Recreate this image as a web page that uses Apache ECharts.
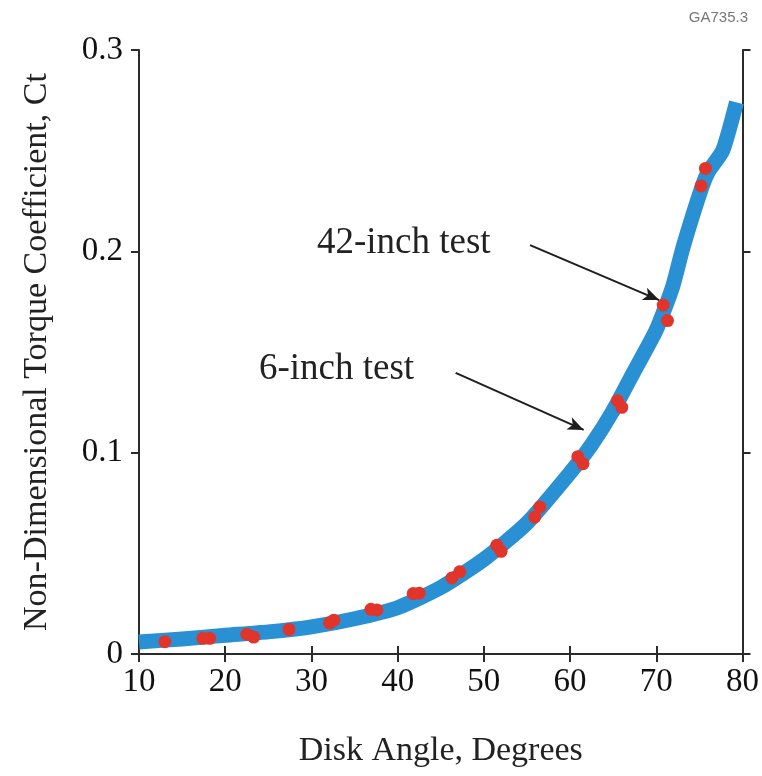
<!DOCTYPE html>
<html>
<head>
<meta charset="utf-8">
<script src="https://cdn.jsdelivr.net/npm/echarts@6/dist/echarts.min.js"></script>
<style>
  html, body { margin: 0; padding: 0; background: #fff; }
  #main { width: 762px; height: 776px; }
</style>
</head>
<body>
<div id="main"></div>
<script>
// fitted curve (blue band)
var curveAngle = [10, 15, 20, 25, 30, 35, 40, 45, 50, 55, 60, 62.5, 65, 67.5, 70, 71.9, 73.1, 75.3, 76.1, 77.7, 79.3];
var curveCt = [0.006, 0.0075, 0.0093, 0.011, 0.0135, 0.0175, 0.023, 0.033, 0.047, 0.065, 0.090, 0.104, 0.121, 0.141, 0.161, 0.1825, 0.202, 0.232, 0.240, 0.250, 0.274];

// test points (red dots)
var testAngle = [13.0, 17.4, 18.2, 22.5, 23.3, 27.4, 32.1, 32.6, 36.9, 37.6, 41.8, 42.5, 46.3, 47.2, 51.5, 52.0, 55.9, 56.5, 60.9, 61.5, 65.5, 66.0, 70.8, 71.3, 75.2, 75.7];
var testCt = [0.0061, 0.0078, 0.0078, 0.0098, 0.0084, 0.0122, 0.0155, 0.0168, 0.0222, 0.0219, 0.0300, 0.0302, 0.0378, 0.0408, 0.0540, 0.0510, 0.0680, 0.0730, 0.0980, 0.0945, 0.1258, 0.1225, 0.1733, 0.1656, 0.2325, 0.2412];

var xTicks = [10, 20, 30, 40, 50, 60, 70, 80];
var yTicks = [0, 0.1, 0.2, 0.3];

var chart = echarts.init(document.getElementById('main'));

var serif = '"Liberation Serif", "Times New Roman", serif';
var axisColor = '#2b2b2b';

function zip(a, b) {
  var out = [];
  for (var i = 0; i < a.length; i++) out.push([a[i], b[i]]);
  return out;
}

var option = {
  backgroundColor: '#fff',
  animation: false,
  grid: { left: 139, right: 15, top: 50, bottom: 122 },
  xAxis: [{
    type: 'value',
    min: xTicks[0],
    max: xTicks[xTicks.length - 1],
    interval: 10,
    name: 'Disk Angle, Degrees',
    nameLocation: 'middle',
    nameGap: 80,
    nameTextStyle: { fontFamily: serif, fontSize: 34, color: '#222' },
    axisLine: { show: true, lineStyle: { color: axisColor, width: 2 } },
    axisTick: { show: true, inside: false, length: 8, lineStyle: { color: axisColor, width: 2 } },
    axisLabel: { fontFamily: serif, fontSize: 33, color: '#111', margin: 12 },
    splitLine: { show: false }
  }, {
    type: 'value',
    position: 'top',
    min: xTicks[0],
    max: xTicks[xTicks.length - 1],
    interval: 10,
    axisLine: { show: true, lineStyle: { color: axisColor, width: 2 } },
    axisTick: { show: true, inside: false, length: 8, lineStyle: { color: axisColor, width: 2 } },
    axisLabel: { show: false },
    splitLine: { show: false }
  }],
  yAxis: [{
    type: 'value',
    min: yTicks[0],
    max: yTicks[yTicks.length - 1],
    interval: 0.1,
    name: 'Non-Dimensional Torque Coefficient, Ct',
    nameLocation: 'middle',
    nameGap: 85,
    nameTextStyle: { fontFamily: serif, fontSize: 34, color: '#222' },
    axisLine: { show: true, lineStyle: { color: axisColor, width: 2 } },
    axisTick: { show: true, inside: false, length: 8, lineStyle: { color: axisColor, width: 2 } },
    axisLabel: {
      fontFamily: serif, fontSize: 33, color: '#111', margin: 16,
      formatter: function (v) { return v === 0 ? '0' : v.toFixed(1); }
    },
    splitLine: { show: false }
  }, {
    type: 'value',
    position: 'right',
    min: yTicks[0],
    max: yTicks[yTicks.length - 1],
    interval: 0.1,
    axisLine: { show: true, lineStyle: { color: axisColor, width: 2 } },
    axisTick: { show: true, inside: false, length: 8, lineStyle: { color: axisColor, width: 2 } },
    axisLabel: { show: false },
    splitLine: { show: false }
  }],
  series: [{
    name: 'curve',
    type: 'line',
    data: zip(curveAngle, curveCt),
    showSymbol: false,
    smooth: 0.2,
    lineStyle: { color: '#2a90d4', width: 15, cap: 'butt', join: 'round' },
    z: 2
  }, {
    name: 'tests',
    type: 'scatter',
    data: zip(testAngle, testCt),
    symbol: 'circle',
    symbolSize: 13,
    itemStyle: { color: '#e1352c', opacity: 1 },
    z: 3,
    markLine: {
      silent: true,
      symbol: ['none', 'arrow'],
      symbolSize: [10, 16],
      label: { show: false },
      lineStyle: { color: '#1e1e1e', width: 2, type: 'solid' },
      data: [
        [{ coord: [55.36, 0.2031] }, { coord: [70.33, 0.1758] }],
        [{ coord: [46.73, 0.1396] }, { coord: [61.58, 0.1113] }]
      ]
    }
  }],
  graphic: [{
    type: 'text', left: 317, top: 225,
    style: { text: '42-inch test', fontFamily: serif, fontSize: 37, fill: '#222' }
  }, {
    type: 'text', left: 259, top: 351,
    style: { text: '6-inch test', fontFamily: serif, fontSize: 37, fill: '#222' }
  }, {
    type: 'text', right: 14, top: 10,
    style: { text: 'GA735.3', fontFamily: '"Liberation Sans", Arial, sans-serif', fontSize: 15, fill: '#777' }
  }]
};

chart.setOption(option);
</script>
</body>
</html>
